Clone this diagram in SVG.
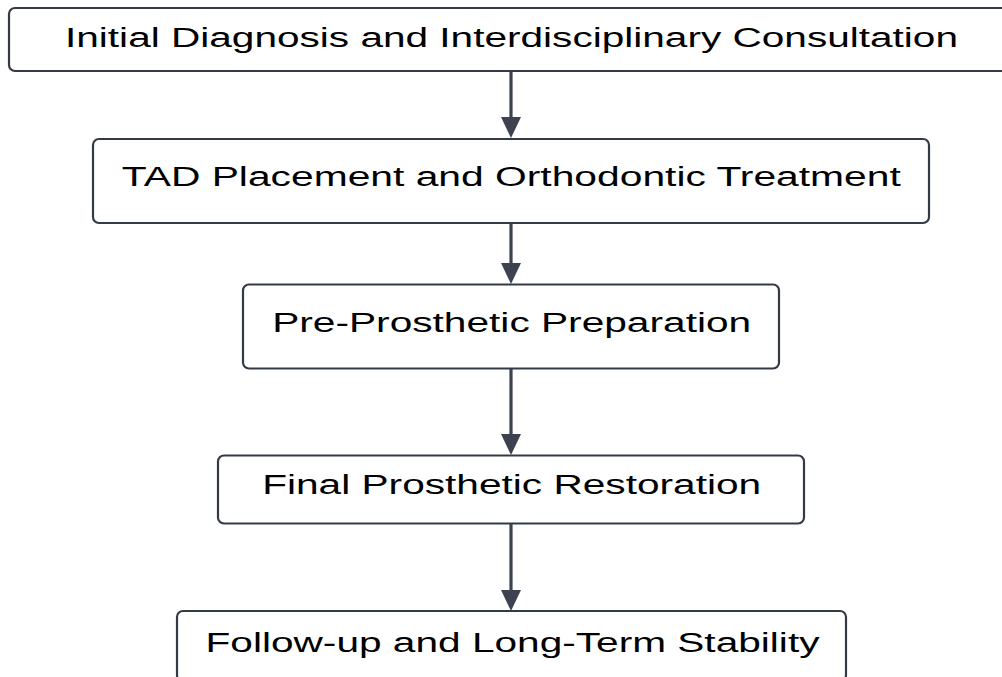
<svg xmlns="http://www.w3.org/2000/svg" width="1002" height="677" viewBox="0 0 1002 677">
  <style>
    .box { fill: #ffffff; stroke: #343a44; stroke-width: 2.2; }
    .lbl { font-family: "Liberation Sans", Arial, sans-serif; font-size: 27px; fill: #000000; text-anchor: middle; }
    .edge { stroke: #3c4250; stroke-width: 3.2; fill: none; }
    .head { fill: #3c4250; }
  </style>
  <rect x="0" y="0" width="1002" height="677" fill="#ffffff"/>
  <g id="connectors">
    <line class="edge" x1="511" y1="71" x2="511" y2="120"/>
    <polygon class="head" points="501,117 521,117 511,138"/>
    <line class="edge" x1="511" y1="223" x2="511" y2="266"/>
    <polygon class="head" points="501,263 521,263 511,284"/>
    <line class="edge" x1="511" y1="369" x2="511" y2="437"/>
    <polygon class="head" points="501,434 521,434 511,455"/>
    <line class="edge" x1="511" y1="523" x2="511" y2="593"/>
    <polygon class="head" points="501,590 521,590 511,611"/>
  </g>
  <g id="node1">
    <rect class="box" x="9" y="8" width="1004" height="63" rx="6"/>
    <text class="lbl" x="511.5" y="47" font-size="28" textLength="893" lengthAdjust="spacingAndGlyphs">Initial Diagnosis and Interdisciplinary Consultation</text>
  </g>
  <g id="node2">
    <rect class="box" x="93" y="139" width="836" height="84" rx="6"/>
    <text class="lbl" x="511.3" y="186" textLength="779" lengthAdjust="spacingAndGlyphs">TAD Placement and Orthodontic Treatment</text>
  </g>
  <g id="node3">
    <rect class="box" x="243" y="284.5" width="536" height="84" rx="6"/>
    <text class="lbl" x="511.7" y="331.7" textLength="479" lengthAdjust="spacingAndGlyphs">Pre-Prosthetic Preparation</text>
  </g>
  <g id="node4">
    <rect class="box" x="218" y="455.5" width="586" height="68" rx="6"/>
    <text class="lbl" x="511.7" y="494" textLength="499" lengthAdjust="spacingAndGlyphs">Final Prosthetic Restoration</text>
  </g>
  <g id="node5">
    <rect class="box" x="177" y="611" width="669" height="70" rx="6"/>
    <text class="lbl" x="512.5" y="651.7" textLength="614" lengthAdjust="spacingAndGlyphs">Follow-up and Long-Term Stability</text>
  </g>
</svg>
